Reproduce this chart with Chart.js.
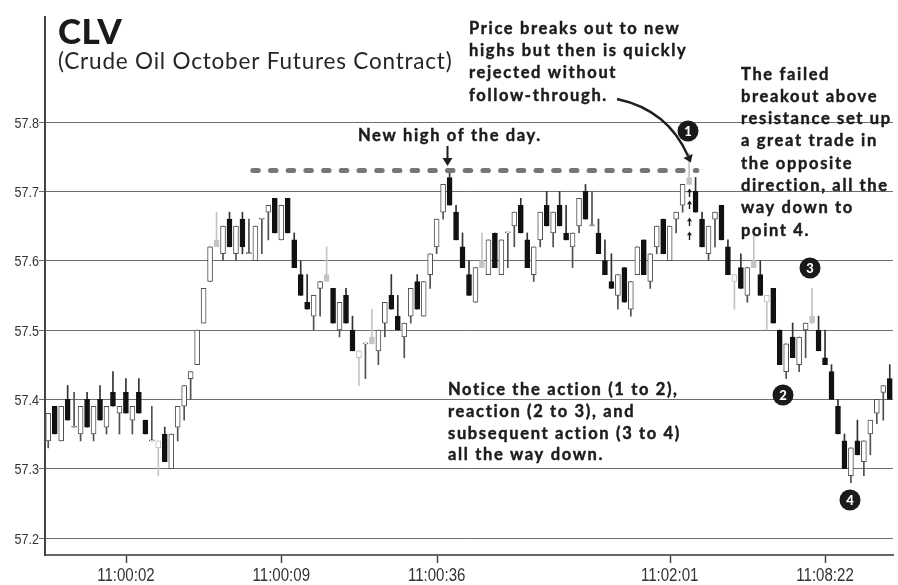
<!DOCTYPE html>
<html><head><meta charset="utf-8">
<script src="https://cdn.jsdelivr.net/npm/chart.js@4.4.1/dist/chart.umd.min.js"></script>
<style>
html,body{margin:0;padding:0;background:#fff;}#wrap{width:898px;height:585px;position:relative}
</style>
</head><body><div id="wrap"><canvas id="c" width="898" height="585" style="width:898px;height:585px"></canvas></div>
<script>
// ---- data ----
const opens = [57.34,57.39,57.34,57.40,57.36,57.35,57.40,57.35,57.40,57.36,57.41,57.38,57.41,57.37,57.41,57.37,57.34,57.33,57.35,57.30,
57.36,57.39,57.43,57.45,57.51,57.57,57.62,57.61,57.66,57.61,57.66,57.61,57.60,57.66,57.67,57.69,57.63,57.69,57.63,57.58,
57.54,57.52,57.56,57.57,57.56,57.50,57.55,57.50,57.46,57.48,57.48,57.47,57.51,57.55,57.52,57.49,57.52,57.57,57.52,57.58,
57.62,57.67,57.72,57.67,57.62,57.58,57.54,57.59,57.58,57.64,57.58,57.64,57.65,57.68,57.63,57.58,57.63,57.68,57.64,57.68,
57.64,57.62,57.65,57.70,57.65,57.64,57.60,57.57,57.55,57.59,57.53,57.58,57.63,57.57,57.62,57.66,57.60,57.66,57.68,57.71,
57.70,57.66,57.61,57.66,57.68,57.62,57.57,57.59,57.55,57.59,57.58,57.54,57.56,57.50,57.44,57.49,57.45,57.50,57.51,57.50,
57.46,57.44,57.39,57.34,57.29,57.34,57.31,57.35,57.38,57.41,57.43];
const highs = [57.38,57.39,57.39,57.42,57.41,57.39,57.41,57.39,57.42,57.39,57.44,57.39,57.43,57.39,57.43,57.37,57.39,57.34,57.36,57.35,
57.39,57.42,57.44,57.50,57.56,57.62,57.67,57.65,57.67,57.65,57.67,57.66,57.65,57.66,57.68,57.69,57.68,57.69,57.64,57.60,
57.58,57.55,57.57,57.62,57.56,57.54,57.56,57.52,57.47,57.48,57.53,57.50,57.54,57.58,57.55,57.51,57.56,57.58,57.57,57.61,
57.66,57.71,57.73,57.68,57.64,57.60,57.59,57.64,57.63,57.64,57.63,57.64,57.67,57.69,57.64,57.62,57.67,57.70,57.67,57.70,
57.68,57.64,57.69,57.71,57.70,57.66,57.63,57.61,57.58,57.59,57.57,57.62,57.63,57.61,57.65,57.66,57.65,57.67,57.71,57.755,
57.72,57.67,57.65,57.67,57.68,57.63,57.58,57.61,57.59,57.64,57.60,57.55,57.56,57.50,57.48,57.51,57.49,57.51,57.56,57.52,
57.50,57.45,57.40,57.35,57.33,57.37,57.34,57.37,57.40,57.42,57.45];
const lows = [57.33,57.35,57.34,57.37,57.36,57.34,57.36,57.34,57.37,57.35,57.39,57.35,57.38,57.35,57.38,57.35,57.34,57.29,57.31,57.30,
57.34,57.37,57.40,57.45,57.51,57.57,57.62,57.60,57.62,57.60,57.61,57.61,57.60,57.61,57.63,57.64,57.63,57.64,57.59,57.55,
57.53,57.50,57.52,57.57,57.51,57.49,57.51,57.47,57.42,57.43,57.48,57.45,57.49,57.53,57.50,57.46,57.51,57.53,57.52,57.56,
57.61,57.66,57.68,57.63,57.59,57.55,57.54,57.59,57.58,57.59,57.58,57.59,57.62,57.64,57.59,57.57,57.62,57.65,57.62,57.65,
57.63,57.59,57.64,57.66,57.65,57.61,57.58,57.56,57.53,57.54,57.52,57.58,57.58,57.56,57.61,57.61,57.60,57.64,57.67,57.71,
57.67,57.62,57.60,57.62,57.63,57.58,57.53,57.56,57.54,57.59,57.55,57.50,57.51,57.45,57.43,57.46,57.44,57.46,57.51,57.47,
57.45,57.40,57.35,57.30,57.28,57.32,57.29,57.32,57.365,57.37,57.40];
const closes = [57.38,57.35,57.39,57.37,57.36,57.39,57.36,57.39,57.37,57.39,57.39,57.39,57.38,57.39,57.38,57.35,57.34,57.34,57.31,57.35,
57.39,57.42,57.44,57.50,57.56,57.62,57.63,57.65,57.62,57.65,57.62,57.61,57.65,57.66,57.68,57.64,57.68,57.64,57.59,57.55,
57.53,57.55,57.57,57.58,57.51,57.54,57.51,57.47,57.47,57.48,57.49,57.50,57.54,57.53,57.50,57.51,57.56,57.53,57.57,57.61,
57.66,57.71,57.68,57.63,57.59,57.55,57.59,57.60,57.63,57.59,57.63,57.64,57.67,57.64,57.59,57.62,57.67,57.65,57.67,57.65,
57.63,57.64,57.69,57.66,57.65,57.61,57.58,57.56,57.58,57.54,57.57,57.62,57.58,57.61,57.65,57.61,57.65,57.67,57.71,57.72,
57.67,57.62,57.65,57.67,57.63,57.58,57.58,57.56,57.59,57.60,57.55,57.55,57.51,57.45,57.48,57.46,57.49,57.51,57.52,57.47,
57.45,57.40,57.35,57.30,57.33,57.32,57.34,57.37,57.40,57.42,57.40];
// candles printed in light grey in the reference (0-based)
const greyFilled = [26,43,50,67,99,109,118];
const greyHollow = [17,48,106,111];
const yTickValues = [57.2,57.3,57.4,57.5,57.6,57.7,57.8];
const xTickIndex = [12,36,60,96,120];
const xTickLabels = ['11:00:02','11:00:09','11:00:36','11:02:01','11:08:22'];
const resistanceLevel = 57.73;
const resistanceFrom = 31.6, resistanceTo = 100.2;

// ---- styling helpers ----
const n = opens.length;
function kind(i){
  if (greyFilled.includes(i)) return 'gf';
  if (greyHollow.includes(i)) return 'gh';
  return closes[i] < opens[i] ? 'down' : 'up';
}
const bodyFill = opens.map((o,i)=>({gf:'#c4c4c4',gh:'#ffffff',down:'#111111',up:'#ffffff'})[kind(i)]);
const bodyBorder = opens.map((o,i)=>({gf:'#c4c4c4',gh:'#bdbdbd',down:'#111111',up:'#505050'})[kind(i)]);
const wickColor = opens.map((o,i)=>({gf:'#c4c4c4',gh:'#c4c4c4',down:'#333333',up:'#505050'})[kind(i)]);

const wickData = lows.map((l,i)=>({x:i, y:[l, highs[i]]}));
const bodyData = opens.map((o,i)=>{
  const lo = Math.min(o, closes[i]);
  const hi = Math.max(o, closes[i], lo + 0.0016);
  return {x:i, y:[lo, hi]};
});

const FONT_T = "'Liberation Sans', Arimo, Arial, sans-serif";
const FONT_A = "Lato, 'Open Sans', sans-serif";

const annot = {
  id:'annot',
  afterDatasetsDraw(chart){
    const ctx = chart.ctx, xs = chart.scales.x, ys = chart.scales.y;
    ctx.save();
    const ry = ys.getPixelForValue(resistanceLevel);
    ctx.strokeStyle = '#767676'; ctx.lineWidth = 5; ctx.lineCap = 'round';
    ctx.setLineDash([5.5, 12.2]);
    ctx.beginPath(); ctx.moveTo(xs.getPixelForValue(resistanceFrom), ry); ctx.lineTo(xs.getPixelForValue(resistanceTo), ry); ctx.stroke();
    ctx.restore();
  },
  afterDraw(chart){
    const ctx = chart.ctx, xs = chart.scales.x, ys = chart.scales.y;
    const ls = v => { try { ctx.letterSpacing = v; } catch(e) {} };
    ctx.save();

    // x tick marks and condensed tick labels, placed through the scales
    const axisY = chart.chartArea.bottom;
    ctx.strokeStyle = '#444'; ctx.lineWidth = 1.5;
    xTickIndex.forEach(v => {
      const px = Math.round(xs.getPixelForValue(v)) + 0.5;
      ctx.beginPath(); ctx.moveTo(px, axisY + 1); ctx.lineTo(px, axisY + 8); ctx.stroke();
    });
    ctx.fillStyle = '#333';
    ctx.font = `15px ${FONT_T}`;
    ctx.textAlign = 'right'; ctx.textBaseline = 'middle';
    yTickValues.forEach(v => {
      ctx.save(); ctx.translate(39, ys.getPixelForValue(v) + 1.5); ctx.scale(0.84, 1);
      ctx.fillText(v.toFixed(1), 0, 0); ctx.restore();
    });
    ctx.font = `17.5px ${FONT_T}`;
    ctx.textAlign = 'center';
    xTickIndex.forEach((v, k) => {
      ctx.save(); ctx.translate(xs.getPixelForValue(v), 576.5); ctx.scale(0.86, 1);
      ctx.fillText(xTickLabels[k], 0, 0); ctx.restore();
    });

    ctx.fillStyle = '#1a1a1a';
    ctx.textBaseline = 'alphabetic'; ctx.textAlign = 'left';
    ls('0.5px');
    ctx.font = `900 35px ${FONT_A}`;
    ctx.fillText('CLV', 58, 44);
    ctx.fillStyle = '#262626';
    ls('0.8px');
    ctx.font = `400 22.5px ${FONT_A}`;
    ctx.fillText('(Crude Oil October Futures Contract)', 58, 69);

    ctx.fillStyle = '#1c1c1c'; ctx.strokeStyle = '#1c1c1c'; ctx.lineWidth = 0.45;
    ctx.font = `700 16.5px ${FONT_A}`;
    ls('1.65px');
    const block = (lines, x, y0, lh) => lines.forEach((t,k)=>{ ctx.fillText(t, x, y0 + k*lh); ctx.strokeText(t, x, y0 + k*lh); });
    block(['Price breaks out to new','highs but then is quickly','rejected without','follow-through.'], 469, 33.5, 22.4);
    block(['The failed','breakout above','resistance set up','a great trade in','the opposite','direction, all the','way down to','point 4.'], 741, 79.5, 22.3);
    block(['New high of the day.'], 358, 141, 22);
    block(['Notice the action (1 to 2),','reaction (2 to 3), and','subsequent action (3 to 4)','all the way down.'], 448, 395, 21.8);
    ls('0px');

    ctx.strokeStyle = '#1e1e1e'; ctx.fillStyle = '#1e1e1e'; ctx.lineWidth = 2;
    ctx.beginPath(); ctx.moveTo(447.5, 146); ctx.lineTo(447.5, 160); ctx.stroke();
    ctx.beginPath(); ctx.moveTo(442.5, 158); ctx.lineTo(452.5, 158); ctx.lineTo(447.5, 166); ctx.closePath(); ctx.fill();

    const sx = 617, sy = 99, cx = 668, cy = 110, ex = 688, ey = 156;
    ctx.lineWidth = 2.4;
    ctx.beginPath(); ctx.moveTo(sx, sy); ctx.quadraticCurveTo(cx, cy, ex, ey); ctx.stroke();
    const ang = Math.atan2(ey - cy, ex - cx);
    ctx.beginPath();
    ctx.moveTo(ex + 7*Math.cos(ang), ey + 7*Math.sin(ang));
    ctx.lineTo(ex + 5*Math.cos(ang+Math.PI/2), ey + 5*Math.sin(ang+Math.PI/2));
    ctx.lineTo(ex + 5*Math.cos(ang-Math.PI/2), ey + 5*Math.sin(ang-Math.PI/2));
    ctx.closePath(); ctx.fill();

    const ax = Math.round(xs.getPixelForValue(99)) + 0.5;
    ctx.lineWidth = 1.4;
    [189, 201, 218, 232].forEach(t=>{
      ctx.beginPath(); ctx.moveTo(ax, t+2); ctx.lineTo(ax, t+8); ctx.stroke();
      ctx.beginPath(); ctx.moveTo(ax-2.5, t+3.2); ctx.lineTo(ax+2.5, t+3.2); ctx.lineTo(ax, t-0.5); ctx.closePath(); ctx.fill();
    });

    const circ = (x, y, t) => {
      ctx.fillStyle = '#1a1a1a';
      ctx.beginPath(); ctx.arc(x, y, 10.5, 0, Math.PI*2); ctx.fill();
      ctx.fillStyle = '#ffffff'; ctx.font = `900 13px ${FONT_A}`;
      ctx.textAlign = 'center'; ctx.textBaseline = 'middle';
      ctx.fillText(t, x, y + 0.5);
    };
    circ(688, 131, '1'); circ(783, 395, '2'); circ(810, 268, '3'); circ(850, 500, '4');
    ctx.restore();
  }
};

function build(){
  new Chart(document.getElementById('c'), {
    type: 'bar',
    data: {
      datasets: [
        { label:'body', data: bodyData, backgroundColor: bodyFill, borderColor: bodyBorder, borderWidth: 1,
          borderSkipped: false, barThickness: 5, grouped: false, order: 1 },
        { label:'wick', data: wickData, backgroundColor: wickColor, borderWidth: 0,
          barThickness: 1, grouped: false, order: 2 }
      ]
    },
    options: {
      responsive: false, animation: false, devicePixelRatio: 1,
      layout: { padding: { top: 17, right: 5, left: 0, bottom: 0 } },
      plugins: { legend: { display: false }, tooltip: { enabled: false } },
      scales: {
        x: {
          type: 'linear', min: -0.5, max: n - 0.5, offset: false,
          afterFit(s){ s.height = 30; },
          afterBuildTicks(s){ s.ticks = xTickIndex.map(v=>({value:v})); },
          ticks: { display: false, autoSkip: false, maxRotation: 0 },
          grid: { display: false, drawOnChartArea: false, drawTicks: false },
          border: { display: true, color: '#666', width: 2 }
        },
        y: {
          type: 'linear', min: 57.1755, max: 57.9515,
          afterFit(s){ s.width = 45; },
          afterBuildTicks(s){ s.ticks = yTickValues.map(v=>({value:v})); },
          ticks: { display: false },
          grid: { color: '#6e6e6e', lineWidth: 1, tickLength: 6 },
          border: { display: true, color: '#444', width: 2 }
        }
      }
    },
    plugins: [annot]
  });
}
let built = false;
const go = () => { if (!built) { built = true; build(); } };
if (document.fonts && document.fonts.load) {
  Promise.all([document.fonts.load('700 16px Lato'), document.fonts.load('400 16px Lato'), document.fonts.load("16px 'Liberation Sans'")]).then(go, go);
  setTimeout(go, 1500);
} else go();
</script></body></html>
